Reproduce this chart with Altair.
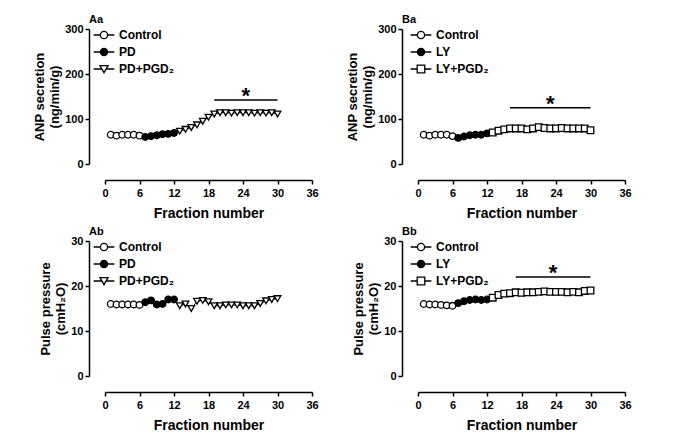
import altair as alt
import pandas as pd

FONT = "Liberation Sans"

# ---------------- data ----------------
frac_control = [1, 2, 3, 4, 5, 6]
frac_drug = [7, 8, 9, 10, 11, 12]
frac_pgd = list(range(13, 31))

groups_a = ["Control", "PD", "PD+PGD\u2082"]
groups_b = ["Control", "LY", "LY+PGD\u2082"]

# Aa: ANP secretion, PD series
aa_control = [65, 63, 65, 65, 65, 63]
aa_drug = [60, 62, 64, 66, 67, 69]
aa_pgd = [73, 77, 81, 87, 95, 104, 111, 114, 114, 113, 114, 114, 114, 113, 114, 113, 114, 111]

# Ba: ANP secretion, LY series
ba_control = [65, 63, 65, 65, 65, 62]
ba_drug = [58, 61, 64, 65, 65, 68]
ba_pgd = [70, 74, 77, 79, 79, 79, 77, 79, 82, 80, 79, 79, 80, 79, 79, 79, 79, 75]

# Ab: pulse pressure, PD series
ab_control = [16.0, 15.9, 15.9, 15.9, 15.9, 15.8]
ab_drug = [16.4, 16.8, 15.9, 16.0, 17.0, 17.0]
ab_pgd = [15.6, 16.0, 15.0, 16.6, 16.8, 16.5, 15.6, 15.6, 15.8, 15.8, 15.8, 15.6,
          15.6, 15.6, 16.1, 16.7, 17.0, 17.2]

# Bb: pulse pressure, LY series
bb_control = [16.0, 15.9, 15.9, 15.8, 15.7, 15.6]
bb_drug = [16.2, 16.6, 16.9, 17.0, 16.9, 17.0]
bb_pgd = [17.4, 18.0, 18.3, 18.4, 18.6, 18.5, 18.6, 18.6, 18.7, 18.8, 18.7, 18.7,
          18.7, 18.6, 18.7, 18.6, 18.9, 19.0]

# significance bars: [start, end, level]
aa_sig = [19, 30, 142]
ba_sig = [16, 30, 125]
bb_sig = [17, 30, 22]

x_ticks = [0, 6, 12, 18, 24, 30, 36]
anp_ticks = [0, 100, 200, 300]
pp_ticks = [0, 10, 20, 30]

# ---------------- helpers ----------------
LINE_C = "M-1.15,0H-0.4M0.4,0H1.15"
CIRCLE_P = LINE_C + "M0.4,0A0.4,0.4,0,1,1,-0.4,0A0.4,0.4,0,1,1,0.4,0Z"
TRI_P = "M-1.15,0H-0.24M0.24,0H1.15M-0.45,-0.38L0.45,-0.38L0,0.4Z"
SQ_P = "M-1.15,0H-0.42M0.42,0H1.15M-0.42,-0.42H0.42V0.42H-0.42Z"


def make_df(groups, control, drug, pgd):
    rows = []
    for f, v in zip(frac_control, control):
        rows.append({"fraction": f, "value": v, "group": groups[0]})
    for f, v in zip(frac_drug, drug):
        rows.append({"fraction": f, "value": v, "group": groups[1]})
    for f, v in zip(frac_pgd, pgd):
        rows.append({"fraction": f, "value": v, "group": groups[2]})
    return pd.DataFrame(rows)


def panel(label, df, groups, marker, legend_path, y_title, y_ticks, sig, legend_x):
    ymax = y_ticks[-1]
    x_scale = alt.Scale(domain=[0, 36], nice=False)
    y_scale = alt.Scale(domain=[0, ymax], nice=False)
    x_axis = alt.Axis(values=x_ticks, title="Fraction number", offset=16,
                      labelOverlap=False, labelFlush=False)
    y_axis = alt.Axis(values=y_ticks, title=y_title, offset=16,
                      labelOverlap=False, labelFlush=False)
    x = alt.X("fraction:Q", scale=x_scale, axis=x_axis)
    y = alt.Y("value:Q", scale=y_scale, axis=y_axis)
    base = alt.Chart(df)
    lines = base.mark_line(color="black", strokeWidth=1).encode(x=x, y=y, detail="group:N")
    points = base.mark_point(filled=True, opacity=1, stroke="black", strokeWidth=1.3).encode(
        x=x, y=y,
        shape=alt.Shape("group:N", scale=alt.Scale(domain=groups, range=["circle", "circle", marker]), legend=None),
        fill=alt.Fill("group:N", scale=alt.Scale(domain=groups, range=["white", "black", "white"]), legend=None),
        size=alt.Size("group:N", scale=alt.Scale(domain=groups, range=[44, 44, 60 if marker == "square" else 64]), legend=None),
    )
    leg = alt.Legend(title=None, orient="none", legendX=legend_x, legendY=-4,
                     symbolSize=324, symbolStrokeWidth=1.3, symbolStrokeColor="black",
                     labelFont=FONT, labelFontSize=12, labelFontWeight="bold", labelColor="black",
                     labelOffset=5, rowPadding=0, padding=0)
    legend_layer = base.transform_filter("false").mark_point(
        filled=True, opacity=1, strokeWidth=1.3).encode(
        x=x, y=y,
        shape=alt.Shape("group:N", scale=alt.Scale(domain=groups, range=[CIRCLE_P, CIRCLE_P, legend_path]), legend=leg),
        fill=alt.Fill("group:N", scale=alt.Scale(domain=groups, range=["white", "black", "white"]), legend=leg),
        stroke=alt.Stroke("group:N", scale=alt.Scale(domain=groups, range=["black", "black", "black"]), legend=leg),
    )
    layers = [lines, points, legend_layer]
    if sig is not None:
        sdf = pd.DataFrame([{"x1": sig[0], "x2": sig[1], "y": sig[2], "xm": (sig[0] + sig[1]) / 2}])
        sbase = alt.Chart(sdf)
        rule = sbase.mark_rule(color="black", strokeWidth=1.5).encode(
            x=alt.X("x1:Q", scale=x_scale, axis=x_axis), x2="x2:Q",
            y=alt.Y("y:Q", scale=y_scale, axis=y_axis))
        star = sbase.mark_text(text="*", font=FONT, fontSize=22, fontWeight="bold",
                               baseline="alphabetic", dy=3, color="black").encode(
            x=alt.X("xm:Q", scale=x_scale, axis=x_axis),
            y=alt.Y("y:Q", scale=y_scale, axis=y_axis))
        layers += [rule, star]
    return alt.layer(*layers).resolve_scale(
        shape="independent", fill="independent", size="independent", stroke="independent"
    ).properties(
        width=207, height=135,
        title=alt.TitleParams(label, anchor="start", frame="group", dx=-16, offset=-2,
                              font=FONT, fontSize=11, fontWeight="bold", color="black"))


df_aa = make_df(groups_a, aa_control, aa_drug, aa_pgd)
df_ba = make_df(groups_b, ba_control, ba_drug, ba_pgd)
df_ab = make_df(groups_a, ab_control, ab_drug, ab_pgd)
df_bb = make_df(groups_b, bb_control, bb_drug, bb_pgd)

anp_title = ["ANP secretion", "(ng/min/g)"]
pp_title = ["Pulse pressure", "(cmH\u2082O)"]

p_aa = panel("Aa", df_aa, groups_a, "triangle-down", TRI_P, anp_title, anp_ticks, aa_sig, -11)
p_ba = panel("Ba", df_ba, groups_b, "square", SQ_P, anp_title, anp_ticks, ba_sig, -7)
p_ab = panel("Ab", df_ab, groups_a, "triangle-down", TRI_P, pp_title, pp_ticks, None, -11)
p_bb = panel("Bb", df_bb, groups_b, "square", SQ_P, pp_title, pp_ticks, bb_sig, -7)

chart = alt.concat(p_aa, p_ba, p_ab, p_bb, columns=2,
                   spacing=alt.RowColnumber(row=6, column=27)).properties(
    padding={"left": 25, "top": 6, "right": 5, "bottom": 5}
).configure_view(stroke=None).configure_axis(
    grid=False, domainColor="black", domainWidth=1.5, tickColor="black", tickWidth=1.5, tickSize=4,
    labelFont=FONT, labelFontSize=11, labelFontWeight="bold", labelColor="black", labelPadding=3,
    titleFont=FONT, titleFontWeight="bold", titleColor="black",
).configure_axisX(titleFontSize=14, titlePadding=8).configure_axisY(titleFontSize=13, titlePadding=3, labelPadding=2)

chart.save("out.html", embed_options={"renderer": "svg", "actions": False})
